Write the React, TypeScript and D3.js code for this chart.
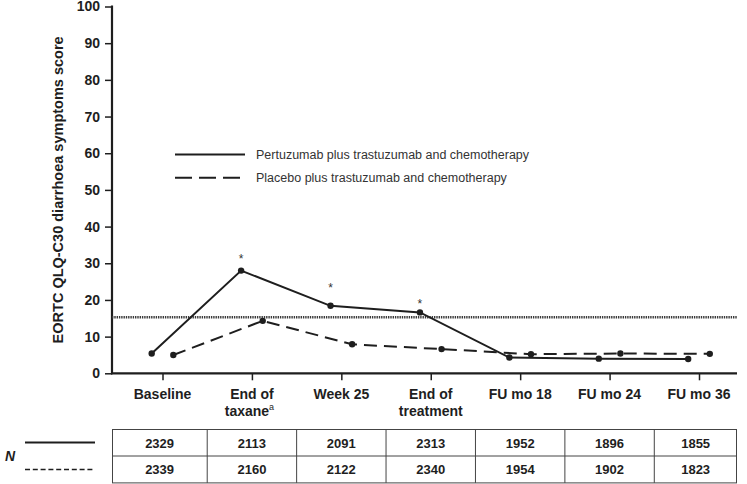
import React, { useEffect, useRef } from 'react';
import * as d3 from 'd3';

// timepoints (second line + superscript handled below)
const categories = ['Baseline', 'End of taxane', 'Week 25', 'End of treatment', 'FU mo 18', 'FU mo 24', 'FU mo 36'];
const categoryLines = [['Baseline'], ['End of', 'taxane'], ['Week 25'], ['End of', 'treatment'], ['FU mo 18'], ['FU mo 24'], ['FU mo 36']];
const categorySup = ['', 'a', '', '', '', '', ''];

const pertuzumabScores = [5.4, 28.0, 18.4, 16.6, 4.3, 4.0, 3.9];
const placeboScores = [5.0, 14.3, 7.9, 6.6, 5.2, 5.4, 5.3];

// asterisk heights (score units), null = not significant
const asteriskScores = [null, 32.2, 24.1, 19.8, null, null, null];

const nPertuzumab = [2329, 2113, 2091, 2313, 1952, 1896, 1855];
const nPlacebo = [2339, 2160, 2122, 2340, 1954, 1902, 1823];

const thresholdScore = 15.3;
const yTicks = [0, 10, 20, 30, 40, 50, 60, 70, 80, 90, 100];

const seriesLabels = ['Pertuzumab plus trastuzumab and chemotherapy', 'Placebo plus trastuzumab and chemotherapy'];

const FONT = '"Liberation Sans", Arial, Helvetica, sans-serif';
const INK = '#1e1e1e';

const App = () => {
  const svgRef = useRef<SVGSVGElement>(null);

  useEffect(() => {
    const svg = d3.select(svgRef.current);
    svg.selectAll('*').remove();

    const axisLeftX = 112;
    const axisRightX = 737;

    const x = d3.scalePoint<string>().domain(categories).range([162.5, 699]);
    const y = d3.scaleLinear().domain([0, 100]).range([373.3, 6.5]);
    const offset = 10.8;

    const g = svg.append('g').style('font-family', FONT);

    // y axis
    const yAxis = g.append('g')
      .attr('transform', `translate(${axisLeftX},0)`)
      .call(d3.axisLeft(y).tickValues(yTicks).tickSize(7).tickPadding(5));
    yAxis.select('.domain').remove();
    yAxis.selectAll('.tick line').attr('stroke', INK).attr('stroke-width', 1.5);
    yAxis.selectAll('.tick text')
      .attr('fill', INK)
      .style('font-size', '14px')
      .style('font-weight', 'bold')
      .style('font-family', FONT);
    g.append('line')
      .attr('x1', axisLeftX).attr('x2', axisLeftX)
      .attr('y1', y(100) - 1).attr('y2', y(0) + 1)
      .attr('stroke', INK).attr('stroke-width', 2.2);

    // x axis
    const xAxis = g.append('g')
      .attr('transform', `translate(0,${y(0)})`)
      .call(d3.axisBottom(x).tickSize(7).tickFormat(() => ''));
    xAxis.select('.domain').remove();
    xAxis.selectAll('.tick line').attr('stroke', INK).attr('stroke-width', 1.5);
    g.append('line')
      .attr('x1', axisLeftX - 1).attr('x2', axisRightX)
      .attr('y1', y(0)).attr('y2', y(0))
      .attr('stroke', INK).attr('stroke-width', 2.2);

    // category labels
    categories.forEach((c, i) => {
      const lines = categoryLines[i];
      const t = g.append('text')
        .attr('x', x(c))
        .attr('y', 398.5)
        .attr('text-anchor', 'middle')
        .style('font-size', '14px')
        .style('font-weight', 'bold')
        .attr('fill', INK);
      lines.forEach((ln, j) => {
        const ts = t.append('tspan').attr('x', x(c)).attr('y', 398.5 + j * 17).text(ln);
        if (j === lines.length - 1 && categorySup[i]) {
          t.append('tspan')
            .attr('dy', -6)
            .style('font-size', '9px')
            .style('font-weight', 'normal')
            .text(categorySup[i]);
          ts.attr('dx', -2.5);
        }
      });
    });

    // y axis title
    g.append('text')
      .attr('transform', `translate(63,${(y(0) + y(100)) / 2}) rotate(-90)`)
      .attr('text-anchor', 'middle')
      .style('font-size', '14.5px')
      .style('font-weight', 'bold')
      .attr('fill', INK)
      .text('EORTC QLQ-C30 diarrhoea symptoms score');

    // threshold
    g.append('line')
      .attr('x1', axisLeftX).attr('x2', axisRightX)
      .attr('y1', y(thresholdScore)).attr('y2', y(thresholdScore))
      .attr('stroke', '#3a3a3a').attr('stroke-width', 2.6)
      .attr('stroke-dasharray', '1.4,0.9');

    // series
    const series = [
      { values: pertuzumabScores, dx: -offset, dash: null },
      { values: placeboScores, dx: offset, dash: '13,7' },
    ];
    const line = d3.line<number>()
      .x((d, i) => (x(categories[i]) as number))
      .y(d => y(d));

    series.forEach(s => {
      const sg = g.append('g').attr('transform', `translate(${s.dx},0)`);
      sg.append('path')
        .datum(s.values)
        .attr('d', line)
        .attr('fill', 'none')
        .attr('stroke', INK)
        .attr('stroke-width', 2)
        .attr('stroke-dasharray', s.dash);
      sg.selectAll('circle')
        .data(s.values)
        .enter().append('circle')
        .attr('cx', (d, i) => x(categories[i]) as number)
        .attr('cy', d => y(d))
        .attr('r', 3.2)
        .attr('fill', INK);
    });

    // significance markers
    asteriskScores.forEach((a, i) => {
      if (a == null) return;
      g.append('text')
        .attr('x', (x(categories[i]) as number) - offset)
        .attr('y', y(a) + 7.5)
        .attr('text-anchor', 'middle')
        .style('font-size', '12px')
        .attr('fill', '#333')
        .text('*');
    });

    // legend
    const legend = g.append('g');
    seriesLabels.forEach((lab, i) => {
      const ly = 154.5 + i * 23.3;
      legend.append('line')
        .attr('x1', 175).attr('x2', i === 0 ? 245 : 240)
        .attr('y1', ly).attr('y2', ly)
        .attr('stroke', INK).attr('stroke-width', 2)
        .attr('stroke-dasharray', i === 0 ? null : '17,7');
      legend.append('text')
        .attr('x', 256).attr('y', ly + 4.5)
        .style('font-size', '12.5px')
        .attr('fill', '#333')
        .text(lab);
    });

    // N table
    const bounds = [axisLeftX];
    for (let i = 0; i < categories.length - 1; i++) {
      bounds.push(((x(categories[i]) as number) + (x(categories[i + 1]) as number)) / 2);
    }
    bounds.push(axisRightX);
    const rowTop = [429.5, 456];
    const rowH = 26.7;
    const table = g.append('g');
    table.append('rect')
      .attr('x', axisLeftX + 0.5).attr('y', rowTop[0])
      .attr('width', axisRightX - axisLeftX - 1).attr('height', rowH * 2)
      .attr('fill', 'none').attr('stroke', '#444').attr('stroke-width', 1);
    table.append('line')
      .attr('x1', axisLeftX).attr('x2', axisRightX)
      .attr('y1', rowTop[1]).attr('y2', rowTop[1])
      .attr('stroke', '#444');
    bounds.slice(1, -1).forEach(b => {
      table.append('line')
        .attr('x1', b).attr('x2', b)
        .attr('y1', rowTop[0]).attr('y2', rowTop[0] + rowH * 2)
        .attr('stroke', '#444');
    });
    [nPertuzumab, nPlacebo].forEach((row, r) => {
      row.forEach((n, i) => {
        table.append('text')
          .attr('x', (bounds[i] + bounds[i + 1]) / 2)
          .attr('y', rowTop[r] + rowH / 2 + 5)
          .attr('text-anchor', 'middle')
          .style('font-size', '13px')
          .style('font-weight', 'bold')
          .attr('fill', INK)
          .text(n);
      });
    });
    table.append('line')
      .attr('x1', 25).attr('x2', 95).attr('y1', 442.5).attr('y2', 442.5)
      .attr('stroke', INK).attr('stroke-width', 2);
    table.append('line')
      .attr('x1', 25).attr('x2', 95).attr('y1', 469.5).attr('y2', 469.5)
      .attr('stroke', INK).attr('stroke-width', 1.6)
      .attr('stroke-dasharray', '5,2.8');
    table.append('text')
      .attr('x', 5).attr('y', 461)
      .style('font-size', '14px')
      .style('font-weight', 'bold')
      .style('font-style', 'italic')
      .attr('fill', INK)
      .text('N');
  }, []);

  return (
    <svg
      ref={svgRef}
      width={747}
      height={484}
      style={{ position: 'absolute', left: 0, top: 0, background: 'white' }}
    />
  );
};

export default App;
